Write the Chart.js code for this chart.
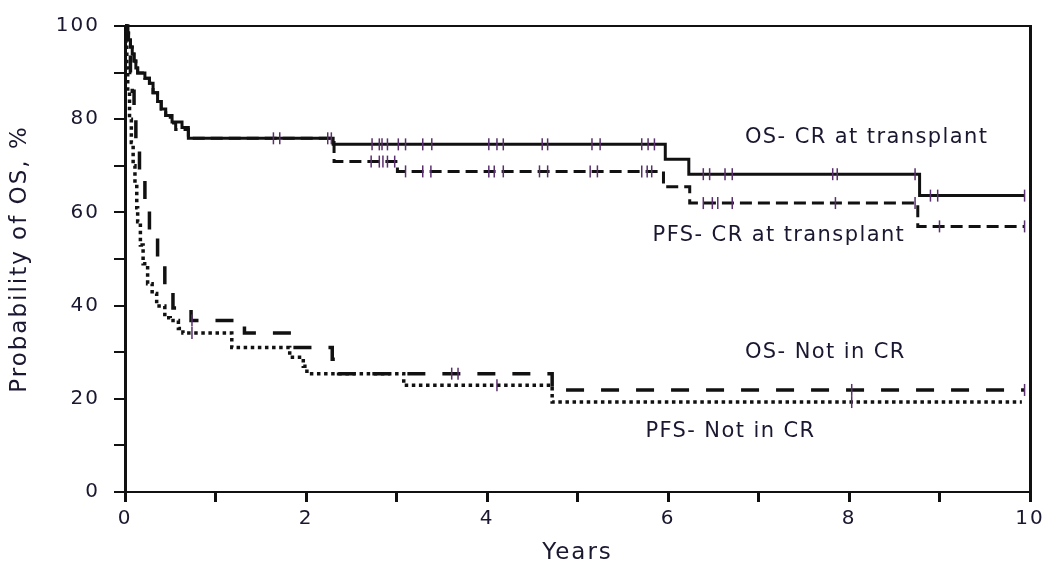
<!DOCTYPE html>
<html><head><meta charset="utf-8">
<script src="https://cdn.jsdelivr.net/npm/chart.js@4.4.1/dist/chart.umd.min.js"></script>
<style>html,body{margin:0;padding:0;background:#fff;}#wrap{width:1050px;height:568px;}</style>
</head><body><div id="wrap"><canvas id="c" width="1050" height="568"></canvas></div>
<script>
// ---- data ----
const osCrTimes   = [0, 0.02, 0.04, 0.06, 0.08, 0.10, 0.12, 0.14, 0.22, 0.27, 0.31, 0.36, 0.40, 0.45, 0.52, 0.63, 0.70, 2.30, 5.97, 6.23, 8.78, 9.94];
const osCrValues  = [100, 98.5, 97, 95.5, 94, 92.5, 91, 89.9, 88.8, 87.7, 85.7, 83.8, 82.2, 80.8, 79.4, 78.2, 75.9, 74.6, 71.4, 68.2, 63.6, 63.6];
const pfsCrTimes  = [0, 0.02, 0.04, 0.06, 0.08, 0.10, 0.12, 0.14, 0.22, 0.27, 0.31, 0.36, 0.40, 0.45, 0.50, 0.56, 0.70, 2.31, 3.01, 5.95, 6.24, 8.76, 9.94];
const pfsCrValues = [100, 98.5, 97, 95.5, 94, 92.5, 91, 89.9, 88.8, 87.7, 85.7, 83.8, 82.2, 80.8, 79.2, 77.8, 75.9, 70.9, 68.8, 65.5, 62.0, 57.0, 57.0];
const osNcrTimes  = [0, 0.03, 0.06, 0.08, 0.10, 0.12, 0.16, 0.22, 0.27, 0.36, 0.44, 0.53, 0.73, 1.32, 1.88, 2.29, 2.36, 4.72, 9.94];
const osNcrValues = [100, 95, 90, 86, 81, 74.6, 67.6, 61, 55.5, 50, 44.5, 39.5, 36.8, 34.1, 31.0, 28.5, 25.4, 21.9, 21.9];
const pfsNcrTimes  = [0, 0.01, 0.02, 0.03, 0.05, 0.07, 0.09, 0.11, 0.13, 0.14, 0.17, 0.20, 0.25, 0.30, 0.35, 0.44, 0.50, 0.59, 0.64, 1.18, 1.82, 1.97, 2.01, 3.08, 4.72, 9.91];
const pfsNcrValues = [100, 96, 91, 86, 80, 75, 70, 66, 61, 58, 53, 49, 44.7, 42.6, 39.9, 37.4, 36.8, 35.1, 34.1, 31.0, 28.9, 27.0, 25.4, 22.9, 19.3, 19.3];

const osCrCensor  = [1.64, 1.71, 2.24, 2.28, 2.73, 2.81, 2.84, 2.90, 3.02, 3.10, 3.29, 3.39, 4.02, 4.11, 4.18, 4.61, 4.67, 5.16, 5.25, 5.71, 5.78, 5.85, 6.39, 6.46, 6.63, 6.71, 7.82, 7.87, 8.73, 8.90, 8.98, 9.94];
const pfsCrCensor = [2.72, 2.81, 2.85, 2.90, 2.98, 3.10, 3.29, 3.38, 4.02, 4.08, 4.18, 4.58, 4.67, 5.14, 5.22, 5.71, 5.77, 5.82, 6.39, 6.49, 6.55, 6.71, 7.85, 8.73, 9.00, 9.94];
const osNcrCensor  = [0.74, 3.61, 3.68, 8.03, 9.94];
const pfsNcrCensor = [0.74, 4.11, 8.03];

const xTickLabels = ['0', '2', '4', '6', '8', '10'];
const yTickLabels = ['0', '20', '40', '60', '80', '100'];
const curveLabels = ['OS- CR at transplant', 'PFS- CR at transplant', 'OS- Not in CR', 'PFS- Not in CR'];
const xTitle = 'Years';
const yTitle = 'Probability of OS, %';

// ---- helpers ----
function pts(times, values) { return times.map((t, i) => ({x: t, y: values[i]})); }
function stepAt(times, values, t) {
  let v = values[0];
  for (let i = 0; i < times.length; i++) { if (times[i] <= t) v = values[i]; }
  return v;
}
function censorPts(cens, times, values) { return cens.map(t => ({x: t, y: stepAt(times, values, t)})); }

const INK = '#111111';
const TXT = '#1a1830';
const TICKCOL = '#5a2f6e';
const FONT = '"DejaVu Sans", Verdana, sans-serif';

function lineDs(data, dash, width) {
  return {type: 'line', data, borderColor: INK, borderWidth: width, borderDash: dash,
    borderCapStyle: 'butt', borderJoinStyle: 'miter', stepped: true, pointRadius: 0,
    fill: false, tension: 0, clip: false, order: 2};
}
function censorDs(data) {
  return {type: 'scatter', data, showLine: false, pointStyle: 'line', rotation: 90,
    pointRadius: 6, pointBorderWidth: 1.5, borderColor: TICKCOL, pointBorderColor: TICKCOL,
    backgroundColor: TICKCOL, clip: false, order: 1};
}

const spacingPlugin = {
  id: 'spacing',
  beforeDraw(chart) { chart.ctx.letterSpacing = '2px'; }
};
const labelPlugin = {
  id: 'curveLabels',
  afterDatasetsDraw(chart, args, opts) {
    const {ctx, scales: {x, y}} = chart;
    ctx.save();
    ctx.letterSpacing = opts.spacing;
    ctx.font = opts.font;
    ctx.fillStyle = opts.color;
    ctx.textAlign = 'left';
    ctx.textBaseline = 'middle';
    opts.items.forEach(it => ctx.fillText(it.text, x.getPixelForValue(it.x), y.getPixelForValue(it.y)));
    ctx.restore();
  }
};

new Chart(document.getElementById('c'), {
  data: {
    datasets: [
      lineDs(pts(osCrTimes, osCrValues), [], 3),
      lineDs(pts(pfsCrTimes, pfsCrValues), [12, 6], 3),
      lineDs(pts(osNcrTimes, osNcrValues), [18, 17], 3.5),
      lineDs(pts(pfsNcrTimes, pfsNcrValues), [3.5, 3.6], 3.5),
      censorDs(censorPts(osCrCensor, osCrTimes, osCrValues)),
      censorDs(censorPts(pfsCrCensor, pfsCrTimes, pfsCrValues)),
      censorDs(censorPts(osNcrCensor, osNcrTimes, osNcrValues)),
      censorDs(censorPts(pfsNcrCensor, pfsNcrTimes, pfsNcrValues))
    ]
  },
  options: {
    responsive: false,
    animation: false,
    events: [],
    layout: {padding: {left: 0, top: 11, right: 20, bottom: 0}},
    plugins: {
      legend: {display: false},
      tooltip: {enabled: false},
      curveLabels: {
        font: '21px ' + FONT, color: TXT, spacing: '1.4px',
        items: [
          {text: curveLabels[0], x: 6.85, y: 76.1},
          {text: curveLabels[1], x: 5.83, y: 55.1},
          {text: curveLabels[2], x: 6.85, y: 29.9},
          {text: curveLabels[3], x: 5.75, y: 12.9}
        ]
      }
    },
    scales: {
      x: {
        type: 'linear', position: 'bottom', min: 0, max: 10,
        afterFit: s => { s.height = 76; },
        ticks: {stepSize: 1, autoSkip: false, maxRotation: 0, padding: 5, color: TXT,
          font: {family: FONT, size: 20},
          callback: v => (v % 2 === 0 ? xTickLabels[v / 2] : '')},
        grid: {drawOnChartArea: false, drawTicks: true, tickLength: 10, color: INK, lineWidth: 3},
        border: {display: true, color: INK, width: 2},
        title: {display: true, text: xTitle, color: TXT, font: {family: FONT, size: 23}, padding: {top: 0, bottom: 1}}
      },
      y: {
        type: 'linear', position: 'left', min: 0, max: 100,
        afterFit: s => { s.width = 125; },
        ticks: {stepSize: 10, autoSkip: false, padding: 14, color: TXT,
          font: {family: FONT, size: 20},
          callback: v => (v % 20 === 0 ? yTickLabels[v / 20] : '')},
        grid: {drawOnChartArea: false, drawTicks: true, tickLength: 11, color: INK, lineWidth: 2},
        border: {display: true, color: INK, width: 3},
        title: {display: true, text: yTitle, color: TXT, font: {family: FONT, size: 23}, padding: {top: 6, bottom: 0}}
      },
      xTop: {
        type: 'linear', position: 'top', min: 0, max: 10,
        afterFit: s => { s.height = 0; },
        ticks: {display: false},
        grid: {drawOnChartArea: false, drawTicks: false},
        border: {display: true, color: INK, width: 2}
      },
      yRight: {
        type: 'linear', position: 'right', min: 0, max: 100,
        afterFit: s => { s.width = 0; },
        ticks: {display: false},
        grid: {drawOnChartArea: false, drawTicks: false},
        border: {display: true, color: INK, width: 3}
      }
    }
  },
  plugins: [spacingPlugin, labelPlugin]
});
</script>
</body></html>
